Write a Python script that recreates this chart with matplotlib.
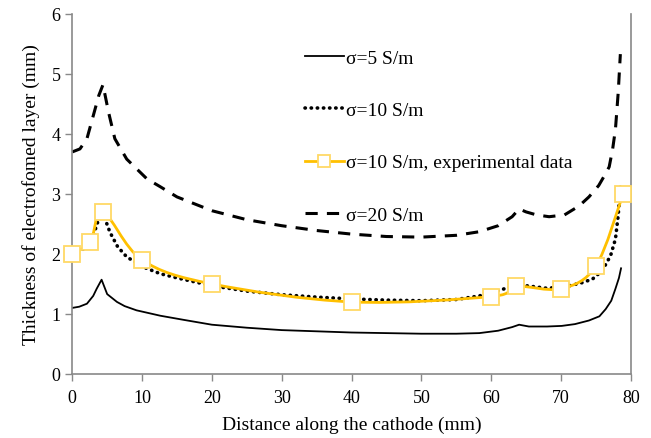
import numpy as np
import matplotlib
matplotlib.use('Agg')
import matplotlib.pyplot as plt
from matplotlib.path import Path
from matplotlib.patches import PathPatch
from matplotlib.lines import Line2D

# sigma = 5 S/m (solid)
x_s5 = [0, 1, 2.1, 3.0, 3.5, 4.2, 5.0, 6.4, 7.5, 9.2, 12.6, 16, 20, 25, 30, 35, 40, 45, 50, 55, 58.3, 61, 63, 64, 65.4, 68, 70.1, 72, 74, 75.5, 76.4, 77.2, 77.8, 78.3, 78.6]
y_s5 = [1.1, 1.12, 1.17, 1.3, 1.42, 1.57, 1.33, 1.2, 1.13, 1.06, 0.97, 0.9, 0.82, 0.77, 0.73, 0.71, 0.69, 0.68, 0.67, 0.67, 0.68, 0.72, 0.78, 0.82, 0.79, 0.79, 0.8, 0.83, 0.89, 0.96, 1.08, 1.22, 1.42, 1.6, 1.76]

# sigma = 10 S/m (dotted)
x_s10 = [0, 1, 2, 3, 3.7, 4.2, 4.8, 5.4, 6.5, 7.8, 10.2, 12.6, 15, 20, 25, 30, 35, 40, 45, 50, 55, 58.3, 61.1, 63, 64, 65, 67.8, 70, 71.6, 73, 74.5, 75.9, 77.1, 77.8, 78.2, 78.5]
y_s10 = [1.98, 2.03, 2.12, 2.3, 2.55, 2.7, 2.55, 2.36, 2.12, 1.95, 1.78, 1.67, 1.6, 1.47, 1.38, 1.32, 1.28, 1.25, 1.23, 1.22, 1.24, 1.3, 1.39, 1.46, 1.5, 1.47, 1.43, 1.44, 1.48, 1.52, 1.58, 1.72, 1.97, 2.25, 2.65, 3.11]

# sigma = 20 S/m (dashed)
x_s20 = [0, 1.1, 2.1, 3.0, 3.8, 4.4, 5.2, 6.1, 7.8, 10.7, 12.6, 15, 20, 25, 30, 35, 40, 45, 50, 55, 58.3, 61, 63, 64, 65, 66.5, 68.3, 70.5, 72.6, 74, 75.4, 76.2, 76.9, 77.4, 77.8, 78.2, 78.5]
y_s20 = [3.7, 3.75, 3.92, 4.3, 4.64, 4.82, 4.36, 3.92, 3.58, 3.25, 3.12, 2.95, 2.72, 2.57, 2.47, 2.39, 2.33, 2.29, 2.28, 2.31, 2.37, 2.47, 2.62, 2.75, 2.7, 2.65, 2.62, 2.65, 2.8, 2.95, 3.14, 3.3, 3.45, 3.75, 4.08, 4.7, 5.33]

# experimental data
x_exp = [0, 2.6, 4.4, 10, 20, 40, 60, 63.5, 70, 75, 78.9]
y_exp = [2.0, 2.2, 2.7, 1.9, 1.5, 1.2, 1.29, 1.46, 1.42, 1.8, 3.0]

gold = '#FFC000'
marker_edge = '#FFD966'
grey = '#898989'

plt.rcParams['font.family'] = ['Liberation Serif', 'DejaVu Serif']

fig = plt.figure(figsize=(6.51, 4.39), dpi=100)
ax = fig.add_axes([0.111, 0.146, 0.858, 0.82])

ax.plot(x_s5, y_s5, color='black', lw=1.3)
ax.plot(x_s10, y_s10, color='black', lw=2.6, linestyle=(0, (0.1, 1.6)), dash_capstyle='round')

# smooth line through the experimental points (catmull-rom to bezier)
pts = np.column_stack([np.array(x_exp, float), np.array(y_exp, float)])
verts = [pts[0]]
codes = [Path.MOVETO]
for i in range(len(pts) - 1):
    p0 = pts[i - 1] if i > 0 else pts[i]
    p1 = pts[i]
    p2 = pts[i + 1]
    p3 = pts[i + 2] if i + 2 < len(pts) else pts[i + 1]
    verts += [p1 + (p2 - p0) / 6.0, p2 - (p3 - p1) / 6.0, p2]
    codes += [Path.CURVE4] * 3
ax.add_patch(PathPatch(Path(verts, codes), facecolor='none', edgecolor=gold, lw=2.0, zorder=3))
ax.plot(x_exp, y_exp, linestyle='none', marker='s', markersize=11, markerfacecolor='white',
        markeredgecolor=marker_edge, markeredgewidth=1.3, zorder=4, clip_on=False)

ax.plot(x_s20, y_s20, color='black', lw=2.2, linestyle=(0, (4, 3)))

ax.set_xlim(0, 80)
ax.set_ylim(0, 6)
ax.set_xticks(range(0, 81, 10))
ax.set_yticks(range(0, 7))

for s in ['left', 'bottom', 'right']:
    ax.spines[s].set_color(grey)
    ax.spines[s].set_linewidth(1.2)
ax.spines['top'].set_visible(False)
ax.tick_params(axis='both', direction='out', length=5, color=grey, labelsize=13, width=1.0)
ax.tick_params(axis='x', pad=6)

ax.set_xlabel('Distance along the cathode (mm)', fontsize=14, labelpad=7)
ax.set_ylabel('Thickness of electrofomed layer (mm)', fontsize=14, labelpad=8)

handles = [
    Line2D([], [], color='black', lw=1.3),
    Line2D([], [], color='black', lw=2.6, linestyle=(0, (0.1, 1.6)), dash_capstyle='round'),
    Line2D([], [], color=gold, lw=2.0, marker='s', markersize=9, markerfacecolor='white',
           markeredgecolor=marker_edge, markeredgewidth=1.3),
    Line2D([], [], color='black', lw=2.2, linestyle=(0, (4, 3))),
]
labels = ['σ=5 S/m', 'σ=10 S/m', 'σ=10 S/m, experimental data', 'σ=20 S/m']
ax.legend(handles, labels, loc='upper left', bbox_to_anchor=(0.385, 0.95), frameon=False,
          fontsize=14, labelspacing=1.78, handlelength=2.0, handletextpad=0.1)

fig.savefig('out.png', dpi=100)
